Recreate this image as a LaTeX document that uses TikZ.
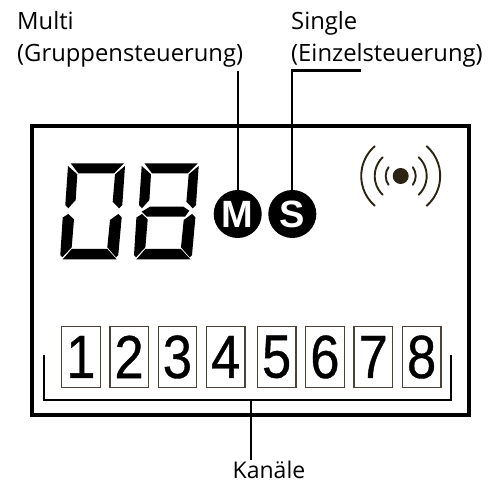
\documentclass[tikz,border=0pt]{standalone}
\usepackage{fontspec}
\setmainfont{Open Sans}
\newfontfamily\digitfont[FakeStretch=0.86,FakeBold=0.6]{Liberation Sans}
\newfontfamily\badgefont{Liberation Sans Bold}
\definecolor{antenna}{HTML}{2B2314}
\definecolor{chanline}{HTML}{4A4438}
\tikzset{
  leader/.style={draw=black,line width=2.2},
  frameb/.style={draw=black,line width=4,line join=miter},
  chan/.style={draw=chanline,fill=white,line width=1.3,minimum width=38.5,minimum height=61,inner sep=0,anchor=north west,font=\digitfont\fontsize{61}{61}\selectfont,text=black},
  badge/.style={circle,fill=black,minimum size=48,inner sep=0,text=white,font=\badgefont\fontsize{38}{38}\selectfont},
  lab/.style={anchor=base west,inner sep=0,font=\fontsize{23.8}{23.8}\selectfont,text=black},
  seg/.style={fill=black,draw=none},
  wave/.style={draw=antenna,line width=1.9,line cap=round}
}
\begin{document}
\begin{tikzpicture}[x=1pt,y=-1pt]
\useasboundingbox (0,0) rectangle (498,481);
% frame
\node[frameb,minimum width=436.7,minimum height=289,inner sep=0,anchor=north west] (frame) at (30,124) {};
% labels
\node[lab] (l1) at (17,30) {Multi};
\node[lab] (l2) at (17,61.5) {(Gruppensteuerung)};
\node[lab] (l3) at (291,30) {Single};
\node[lab] (l4) at (291,61.5) {(Einzelsteuerung)};
\node[lab,font=\fontsize{23}{23}\selectfont] (l5) at (232.5,478.5) {Kanäle};
% badges
\node[badge] (M) at (237.7,214) {M};
\node[badge] (S) at (292.3,214) {S};
% leaders
\coordinate (mtop) at (237.7,71);
\coordinate (stop) at (292.3,70.5);
\coordinate (send) at (361,70.5);
\draw[leader] (mtop) -- (M.north);
\draw[leader] (send) -- (stop) -- (S.north);
% channels
\foreach \n/\x in {1/61,2/109.2,3/157.5,4/205.8,5/256.7,6/305,7/353.3,8/401.7}{
  \node[chan] (c\n) at (\x,325.8) {\n};
}
% bracket
\coordinate (bl) at (44,355);
\coordinate (blc) at (44,400);
\coordinate (brc) at (451.3,400);
\coordinate (br) at (451.3,355);
\coordinate (bm) at (250.7,400);
\coordinate (bb) at (250.7,460);
\draw[leader] (bl) -- (blc) -- (brc) -- (br);
\draw[leader] (bm) -- (bb);
% seven segment digits
\foreach \dx in {0,73.7}{
\begin{scope}[xshift=\dx]
\fill[seg] (70.7,163.3) -- (124,163.3) -- (114,173.3) -- (78.3,173.3) -- cycle;
\fill[seg] (68,166) -- (77.3,174.3) -- (75.7,200) -- (68.3,208.3) -- (65.3,205) -- cycle;
\fill[seg] (125,166) -- (122.3,205) -- (119,208.3) -- (112.7,201.7) -- (115,174.3) -- cycle;
\fill[seg] (68.3,214) -- (74,219.3) -- (71.7,247.3) -- (62.3,257.3) -- (60.3,255) -- (62.7,217.5) -- cycle;
\fill[seg] (118.3,214) -- (121.7,217.3) -- (118.3,255) -- (116,257.3) -- (107.3,247.3) -- (110,220) -- cycle;
\fill[seg] (71.7,249) -- (107.3,249) -- (116.7,259.3) -- (62.7,259.3) -- cycle;
\end{scope}}
\fill[seg] (150,206.7) -- (183.3,206.7) -- (189.3,210.7) -- (185,216.7) -- (146.7,216.7) -- (141.7,211.7) -- cycle;
% antenna
\coordinate (ant) at (400.7,176);
\fill[antenna] (ant) circle (8);
\foreach \r/\a in {15/36,26/46,39.5/49}{
  \draw[wave] ([shift={(180-\a:\r)}]ant) arc[start angle=180-\a,end angle=180+\a,radius=\r];
  \draw[wave] ([shift={(-\a:\r)}]ant) arc[start angle=-\a,end angle=\a,radius=\r];
}
\end{tikzpicture}
\end{document}
